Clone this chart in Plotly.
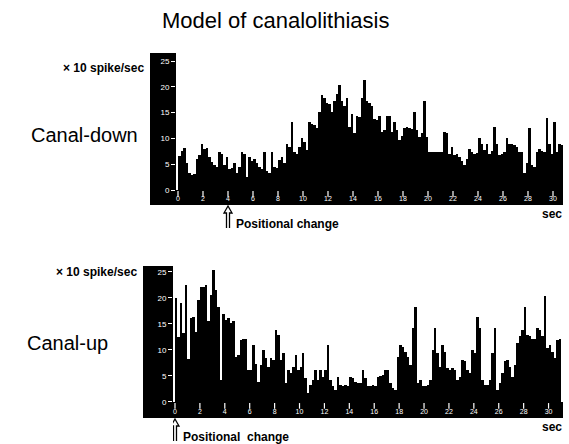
import plotly.graph_objects as go

W, H = 569, 444
BIN_SEC = 0.2  # histogram bin width (s)

# firing rate per 0.2 s bin, in units of x10 spikes/sec
canal_down = [
    6.5, 7.6, 8.1, 5.2, 3.3, 2.9, 3.2, 6.0, 6.7, 9.0,
    8.0, 8.2, 6.4, 5.5, 4.8, 4.5, 7.3, 7.0, 4.8, 6.4,
    4.0, 4.3, 5.2, 3.3, 4.5, 7.3, 7.0, 2.6, 6.4, 5.6,
    6.0, 5.2, 4.5, 4.0, 7.3, 3.6, 3.3, 7.3, 4.5, 4.2,
    5.8, 6.4, 5.2, 9.0, 8.4, 13.2, 7.3, 7.0, 8.4, 10.0,
    9.4, 7.8, 13.2, 12.8, 12.6, 12.0, 15.2, 18.4, 17.8, 16.8,
    16.6, 15.2, 17.2, 18.7, 20.3, 17.2, 16.2, 17.8, 12.3, 14.7,
    11.0, 14.4, 14.2, 17.8, 21.3, 17.2, 16.9, 16.2, 13.8, 13.5,
    14.4, 11.3, 11.6, 14.4, 14.4, 11.3, 13.2, 11.6, 9.7, 10.5,
    12.0, 12.3, 12.0, 11.8, 15.2, 11.6, 10.3, 11.0, 17.2, 10.3,
    7.3, 7.3, 7.3, 7.3, 7.3, 7.3, 11.3, 11.0, 7.0, 8.4,
    6.7, 7.0, 6.4, 5.6, 4.8, 6.0, 8.0, 7.4, 7.0, 7.2,
    10.0, 9.0, 7.8, 9.0, 7.0, 7.5, 12.3, 9.0, 6.7, 7.0,
    7.4, 10.0, 9.0, 8.9, 8.7, 8.4, 7.3, 7.3, 3.3, 5.2,
    12.0, 4.8, 4.5, 7.4, 8.0, 7.6, 7.3, 14.0, 9.0, 7.0,
    13.2, 7.3, 9.0, 8.7,
]

canal_up = [
    20.0, 12.5, 19.0, 13.3, 22.5, 8.3, 16.1, 16.4, 13.5, 19.6,
    22.2, 22.2, 22.5, 15.5, 20.6, 25.4, 21.5, 18.3, 4.2, 17.0,
    15.8, 16.1, 15.1, 15.5, 8.7, 9.0, 11.9, 12.2, 12.2, 6.2,
    6.2, 11.0, 7.4, 3.9, 7.1, 10.0, 8.4, 6.8, 8.4, 8.1,
    13.8, 12.9, 8.1, 9.4, 3.6, 6.2, 5.5, 6.8, 9.0, 6.2,
    6.8, 9.4, 4.6, 1.7, 3.2, 4.2, 6.2, 4.2, 6.2, 4.9,
    6.2, 11.0, 4.2, 3.0, 2.3, 4.9, 3.2, 3.0, 3.2, 3.0,
    4.9, 4.6, 3.9, 3.6, 3.6, 6.2, 4.6, 3.0, 3.0, 3.2,
    3.0, 4.9, 5.0, 5.2, 6.2, 6.2, 3.6, 2.6, 2.3, 8.7,
    11.0, 10.6, 9.7, 8.7, 7.1, 14.2, 18.3, 3.6, 4.2, 3.0,
    3.0, 3.2, 4.2, 10.0, 14.2, 9.4, 6.8, 11.0, 9.7, 6.5,
    6.2, 6.5, 6.2, 4.2, 4.9, 8.1, 7.8, 6.2, 5.5, 10.0,
    9.4, 16.4, 14.2, 4.2, 3.2, 3.2, 4.2, 9.4, 14.2, 2.3,
    3.6, 5.5, 7.8, 8.1, 6.8, 4.9, 7.1, 11.3, 12.6, 13.8,
    18.3, 12.9, 12.6, 12.2, 12.2, 14.2, 13.8, 12.6, 20.3, 10.3,
    11.0, 9.7, 8.4, 11.9, 12.2,
]

y_ticks = [0, 5, 10, 15, 20, 25]
x_ticks = list(range(0, 31, 2))

panels = [
    dict(name="Canal-down", values=canal_down, change=4.0,
         change_text="<b>Positional change</b>",
         plot_px=(176, 563), top_px=53, bottom_px=205, strip_px=(150, 176),
         xr=[-0.16, 30.8], yr=[-2.9, 26.55], label_x=84, label_y=135, unit_y=68),
    dict(name="Canal-up", values=canal_up, change=0.0,
         change_text="<b>Positional  change</b>",
         plot_px=(173, 563), top_px=266, bottom_px=418, strip_px=(143, 173),
         xr=[-0.16, 31.16], yr=[-3.08, 26.15], label_x=67, label_y=343, unit_y=272),
]

FONT = "Liberation Sans, Arial, sans-serif"


def px(x):
    return x / W


def py(y):
    return 1 - y / H


fig = go.Figure()
shapes, annotations = [], []
layout_axes = {}

for i, p in enumerate(panels):
    sfx = "" if i == 0 else str(i + 1)
    xa, ya = "x" + sfx, "y" + sfx
    centers = [(k + 0.5) * BIN_SEC for k in range(len(p["values"]))]
    fig.add_trace(go.Bar(x=centers, y=p["values"], width=BIN_SEC,
                         marker=dict(color="black", line=dict(width=0)),
                         xaxis=xa, yaxis=ya, hoverinfo="skip"))
    # small white tick marks along the baseline band
    fig.add_trace(go.Scatter(x=x_ticks, y=[-0.75] * len(x_ticks), mode="markers",
                             marker=dict(symbol="line-ns", size=4,
                                         line=dict(color="white", width=1.2)),
                             xaxis=xa, yaxis=ya, hoverinfo="skip"))

    x0, x1 = p["plot_px"]
    dom_y = [py(p["bottom_px"]), py(p["top_px"])]
    layout_axes["xaxis" + sfx] = dict(
        domain=[px(x0), px(x1)], range=p["xr"], anchor=ya,
        tickvals=x_ticks, ticktext=[str(v) for v in x_ticks],
        ticklabelposition="inside", ticks="", showgrid=False, zeroline=False,
        showline=False, tickfont=dict(family=FONT, size=7, color="white"),
        fixedrange=True)
    layout_axes["yaxis" + sfx] = dict(
        domain=dom_y, range=p["yr"], anchor=xa,
        tickvals=y_ticks, ticktext=[str(v) for v in y_ticks],
        ticks="outside", ticklen=4, tickwidth=1.2, tickcolor="white",
        showgrid=False, zeroline=False, showline=False,
        tickfont=dict(family=FONT, size=8, color="white"), fixedrange=True)

    # black baseline band below zero
    shapes.append(dict(type="rect", xref=xa + " domain", yref=ya,
                       x0=0, x1=1, y0=p["yr"][0], y1=0,
                       fillcolor="black", line=dict(width=0), layer="below"))
    # black y-axis strip
    sx0, sx1 = p["strip_px"]
    shapes.append(dict(type="rect", xref="paper", yref="paper",
                       x0=px(sx0), x1=px(sx1), y0=dom_y[0], y1=dom_y[1],
                       fillcolor="black", line=dict(width=0), layer="below"))

    # hollow arrow marking the positional change
    c = p["change"]
    kx = (p["xr"][1] - p["xr"][0]) / (x1 - x0)  # data units per pixel
    yb = p["bottom_px"]
    pts = [(-1.5, yb + 23), (-1.5, yb + 8), (-4, yb + 8), (0, yb + 1),
           (4, yb + 8), (1.5, yb + 8), (1.5, yb + 23)]
    path = "M " + " L ".join(f"{c + dx * kx:.4f},{py(yy):.4f}" for dx, yy in pts)
    shapes.append(dict(type="path", xref=xa, yref="paper", path=path,
                       line=dict(color="black", width=1.3)))
    annotations.append(dict(x=c, xref=xa, xshift=6, y=py(yb + 19), yref="paper",
                            text=p["change_text"],
                            showarrow=False, xanchor="left", yanchor="middle",
                            font=dict(family=FONT, size=12, color="black")))
    annotations.append(dict(x=px(564), y=py(yb + 9), xref="paper", yref="paper",
                            text="<b>sec</b>", showarrow=False, xanchor="right",
                            yanchor="middle",
                            font=dict(family=FONT, size=12, color="black")))
    annotations.append(dict(x=px(sx0 - 4), y=py(p["unit_y"]), xref="paper", yref="paper",
                            text="<b>× 10 spike/sec</b>", showarrow=False,
                            xanchor="right", yanchor="middle",
                            font=dict(family=FONT, size=12, color="black")))
    annotations.append(dict(x=px(p["label_x"]), y=py(p["label_y"]), xref="paper",
                            yref="paper", text=p["name"], showarrow=False,
                            xanchor="center", yanchor="middle",
                            font=dict(family=FONT, size=20, color="black")))

annotations.append(dict(x=px(275), y=py(21), xref="paper", yref="paper",
                        text="Model of canalolithiasis", showarrow=False,
                        xanchor="center", yanchor="middle",
                        font=dict(family=FONT, size=22, color="black")))

fig.update_layout(width=W, height=H, margin=dict(l=0, r=0, t=0, b=0),
                  paper_bgcolor="white", plot_bgcolor="white",
                  showlegend=False, bargap=0, shapes=shapes,
                  annotations=annotations, **layout_axes)

fig.write_html("out.html")
